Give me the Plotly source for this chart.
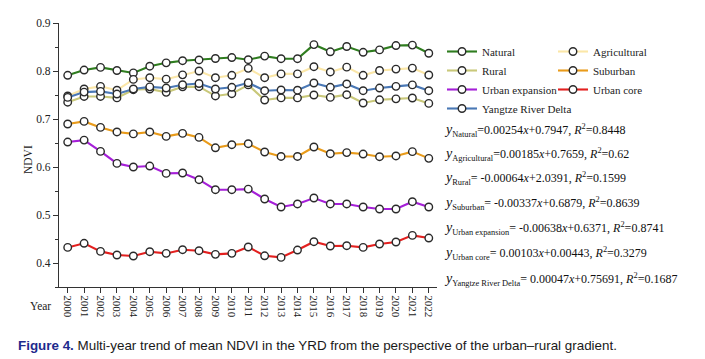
import plotly.graph_objects as go

years = list(range(2000, 2023))
natural = [0.791, 0.802, 0.8075, 0.801, 0.796, 0.810, 0.817, 0.8215, 0.823, 0.826, 0.828, 0.8235,
           0.831, 0.8256, 0.8256, 0.855, 0.840, 0.851, 0.839, 0.844, 0.853, 0.854, 0.837]
agricultural = [0.748, 0.7625, 0.768, 0.760, 0.7825, 0.786, 0.783, 0.792, 0.800, 0.786, 0.791, 0.8055,
                0.786, 0.794, 0.794, 0.809, 0.798, 0.808, 0.791, 0.801, 0.804, 0.806, 0.7917]
rural = [0.735, 0.747, 0.747, 0.744, 0.761, 0.7625, 0.7555, 0.767, 0.7673, 0.748, 0.7527, 0.771,
         0.7396, 0.744, 0.744, 0.750, 0.745, 0.7506, 0.7333, 0.740, 0.742, 0.7437, 0.7325]
suburban = [0.6896, 0.695, 0.6825, 0.673, 0.669, 0.673, 0.6638, 0.670, 0.6617, 0.640, 0.6465, 0.6485,
            0.6313, 0.622, 0.622, 0.6417, 0.6277, 0.630, 0.627, 0.6215, 0.623, 0.632, 0.618]
urban_expansion = [0.652, 0.656, 0.6325, 0.6075, 0.600, 0.602, 0.5867, 0.5875, 0.5735, 0.5527, 0.5527, 0.554,
                   0.5333, 0.5167, 0.523, 0.5354, 0.523, 0.523, 0.5167, 0.5125, 0.5125, 0.5277, 0.5167]
urban_core = [0.4325, 0.441, 0.4242, 0.4167, 0.4146, 0.4235, 0.420, 0.4277, 0.4256, 0.418, 0.420, 0.4333,
              0.415, 0.4117, 0.427, 0.4444, 0.4354, 0.436, 0.4325, 0.4396, 0.4437, 0.4575, 0.452]
yrd = [0.745, 0.756, 0.7575, 0.752, 0.7625, 0.767, 0.7645, 0.7715, 0.774, 0.7625, 0.766, 0.7755,
       0.759, 0.7604, 0.760, 0.775, 0.766, 0.773, 0.759, 0.7645, 0.768, 0.771, 0.759]

series_names = ["Natural", "Agricultural", "Rural", "Suburban", "Urban expansion", "Urban core",
                "Yangtze River Delta"]
series_values = [natural, agricultural, rural, suburban, urban_expansion, urban_core, yrd]
series_colors = ["#2f7d1f", "#fbe7a8", "#c9c87a", "#e99b1a", "#a51fd8", "#e3201f", "#4a78b5"]
legend_column = ["legend", "legend2", "legend", "legend2", "legend", "legend2", "legend"]

eq_subs = ["Natural", "Agricultural", "Rural", "Suburban", "Urban expansion", "Urban core",
           "Yangtze River Delta"]
eq_rhs = ["=0.00254<i>x</i>+0.7947, <i>R</i><sup>2</sup>=0.8448",
          "=0.00185<i>x</i>+0.7659, <i>R</i><sup>2</sup>=0.62",
          "= -0.00064<i>x</i>+2.0391, <i>R</i><sup>2</sup>=0.1599",
          "= -0.00337<i>x</i>+0.6879, <i>R</i><sup>2</sup>=0.8639",
          "= -0.00638<i>x</i>+0.6371, <i>R</i><sup>2</sup>=0.8741",
          "= 0.00103<i>x</i>+0.00443, <i>R</i><sup>2</sup>=0.3279",
          "= 0.00047<i>x</i>+0.75691, <i>R</i><sup>2</sup>=0.1687"]

SERIF = "Liberation Serif, Times New Roman, serif"

fig = go.Figure()
for i in range(len(series_names)):
    fig.add_trace(go.Scatter(
        x=years, y=series_values[i], name=series_names[i], mode="lines+markers",
        legend=legend_column[i],
        line=dict(color=series_colors[i], width=2.1),
        marker=dict(symbol="circle", size=7.5, color="white",
                    line=dict(color="#2a2a2a", width=1.4)),
    ))

# page body has an 8px margin: figure coordinates = screen coordinates - 8
OFF = 8
SCR_W, SCR_H = 705, 359
W, H = SCR_W - OFF, SCR_H - OFF
plot_left, plot_right, plot_top, plot_bottom = 59, 437, 23, 287  # screen px
L = plot_left - OFF
T = plot_top - OFF
R = W - (plot_right - OFF)
B = H - (plot_bottom - OFF)
pw, ph = W - L - R, H - T - B

def px_x(x):
    return (x - OFF - L) / pw

def px_y(y):
    return (H - B - (y - OFF)) / ph

annotations = []
eq_y = [130, 154, 178.5, 203, 228.5, 253.5, 279]
for sub, rhs, yy in zip(eq_subs, eq_rhs, eq_y):
    annotations.append(dict(
        x=px_x(442), y=px_y(yy), xref="paper", yref="paper", xanchor="left", yanchor="middle",
        showarrow=False, align="left",
        text=f"<i><span style='font-size:14px'>y</span></i><sub>{sub}</sub>{rhs}",
        font=dict(family=SERIF, size=12, color="#111111")))

annotations.append(dict(x=px_x(40), y=px_y(306), xref="paper", yref="paper", showarrow=False,
                        text="Year", font=dict(family=SERIF, size=11.5, color="#222222"),
                        xanchor="center", yanchor="middle"))
annotations.append(dict(x=px_x(28), y=px_y(160), xref="paper", yref="paper", showarrow=False,
                        text="NDVI", textangle=-90, font=dict(family=SERIF, size=11.5, color="#222222"),
                        xanchor="center", yanchor="middle"))
annotations.append(dict(x=px_x(16), y=px_y(345), xref="paper", yref="paper", showarrow=False,
                        xanchor="left", yanchor="middle",
                        text="<b><span style='color:#1e2a8c'>Figure 4.</span></b> Multi-year trend of mean NDVI in the YRD from the perspective of the urban–rural gradient.",
                        font=dict(family="Liberation Sans, Arial, sans-serif", size=13.4,
                                  color="#1a1a1a")))

legend_common = dict(orientation="v", xref="container", yref="container",
                     xanchor="left", yanchor="top",
                     font=dict(family=SERIF, size=11, color="#222222"), itemclick=False,
                     itemwidth=30, bgcolor="rgba(0,0,0,0)", borderwidth=0,
                     tracegroupgap=0)

fig.update_layout(
    width=W, height=H, margin=dict(l=L, r=R, t=T, b=B, autoexpand=False),
    paper_bgcolor="white", plot_bgcolor="white",
    showlegend=True,
    legend=dict(legend_common, x=(442 - OFF) / W, y=1 - (37 - OFF) / H),
    legend2=dict(legend_common, x=(553 - OFF) / W, y=1 - (37 - OFF) / H),
    xaxis=dict(range=[1999.47, 2022.5], tickmode="array", tickvals=years,
               ticktext=[str(y) for y in years], tickangle=90, ticks="outside", ticklen=5,
               tickcolor="#333333", showline=True, linecolor="#333333", linewidth=1.3,
               showgrid=False, zeroline=False, automargin=False,
               tickfont=dict(family=SERIF, size=11, color="#222222")),
    yaxis=dict(range=[0.35, 0.9], tickvals=[0.4, 0.5, 0.6, 0.7, 0.8, 0.9],
               ticktext=["0.4", "0.5", "0.6", "0.7", "0.8", "0.9"], ticks="outside", ticklen=5,
               tickcolor="#333333", showline=True, linecolor="#333333", linewidth=1.3,
               showgrid=False, zeroline=False, automargin=False,
               minor=dict(tickvals=[0.35, 0.45, 0.55, 0.65, 0.75, 0.85], ticks="outside", ticklen=3,
                          tickcolor="#333333"),
               tickfont=dict(family=SERIF, size=11.5, color="#222222")),
    annotations=annotations,
)

fig.write_html("out.html")
